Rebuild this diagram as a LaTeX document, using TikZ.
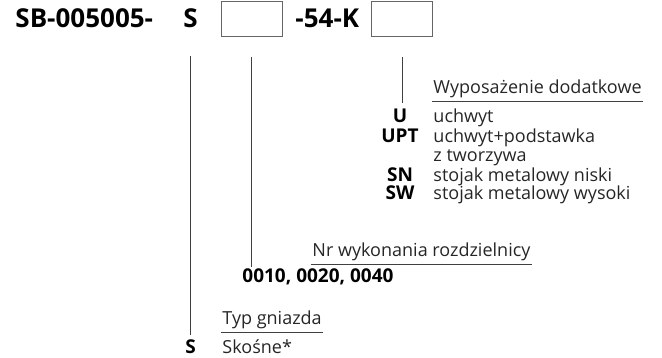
\documentclass[tikz,border=0pt]{standalone}
\usepackage{fontspec}
\setmainfont{Open Sans}

\begin{document}
\begin{tikzpicture}[x=1pt, y=1pt, line width=0.9pt,
    title/.style={font=\fontsize{26}{26}\selectfont\bfseries, inner sep=0pt},
    field/.style={draw=black!60, line width=0.8pt, minimum width=61pt, minimum height=35pt, inner sep=0pt},
    lead/.style={draw=black!75, line width=0.9pt},
    heading/.style={font=\fontsize{18}{18}\selectfont, text=black!85, anchor=base west, inner xsep=1pt, inner ysep=0pt, text depth=7.5pt},
    code/.style={font=\fontsize{19}{19}\selectfont\bfseries, anchor=base, inner sep=0pt},
    desc/.style={font=\fontsize{18}{18}\selectfont, text=black!85, anchor=base west, inner sep=0pt}]

    % Fix the size of the page.
    \useasboundingbox (0,0) rectangle (662,-358);

    % Coordinates for the order code on top.
    \coordinate (T)  at ( 15.0, -27.3);
    \coordinate (S)  at (190.5, -27.3);
    \coordinate (F1) at (251.5, -18.5);
    \coordinate (K)  at (295.0, -27.3);
    \coordinate (F2) at (402.0, -18.5);

    % The order code.
    \node[title, anchor=base west] (sb)   at (T)  {SB-005005-};
    \node[title, anchor=base]      (sTop) at (S)  {S};
    \node[field]                   (box1) at (F1) {};
    \node[title, anchor=base west] (kTop) at (K)  {-54-K};
    \node[field]                   (box2) at (F2) {};

    % Extra equipment.
    \node[heading] (wyp) at (432, -94) {Wyposażenie dodatkowe};
    \draw[lead] (wyp.south west) -- (wyp.south east);
    \node[code] (uKod)   at (400,-123) {U};
    \node[desc] (uOpis)  at (433,-123) {uchwyt};
    \node[code] (uptKod) at (400,-143) {UPT};
    \node[desc] (uptOp1) at (433,-143) {uchwyt+podstawka};
    \node[desc] (uptOp2) at (433,-162) {z tworzywa};
    \node[code] (snKod)  at (400,-182) {SN};
    \node[desc] (snOpis) at (433,-182) {stojak metalowy niski};
    \node[code] (swKod)  at (400,-200) {SW};
    \node[desc] (swOpis) at (433,-200) {stojak metalowy wysoki};

    % Switchboard version.
    \node[heading] (nr) at (311, -256.5) {Nr wykonania rozdzielnicy};
    \draw[lead] (nr.south west) -- (nr.south east);
    \node[code, anchor=base west] (nrKod) at (242, -282.5) {0010, 0020, 0040};

    % Socket type.
    \node[heading] (typ) at (221, -325) {Typ gniazda};
    \draw[lead] (typ.south west) -- (typ.south east);
    \node[code] (sKod)  at (190.5, -354) {S};
    \node[desc] (sOpis) at (222, -354) {Skośne*};

    % Leads from the code down to the lists.
    \draw[lead] ([yshift=-29pt]sTop.base) -- ([yshift=5pt]sTop.base |- sKod.north);
    \draw[lead] ([yshift=-21pt]box1.south) -- ([yshift=1pt]box1.south |- nrKod.north);
    \draw[lead] ([yshift=-21pt]box2.south) -- ([yshift=6pt]box2.south |- uKod.north);
\end{tikzpicture}
\end{document}
